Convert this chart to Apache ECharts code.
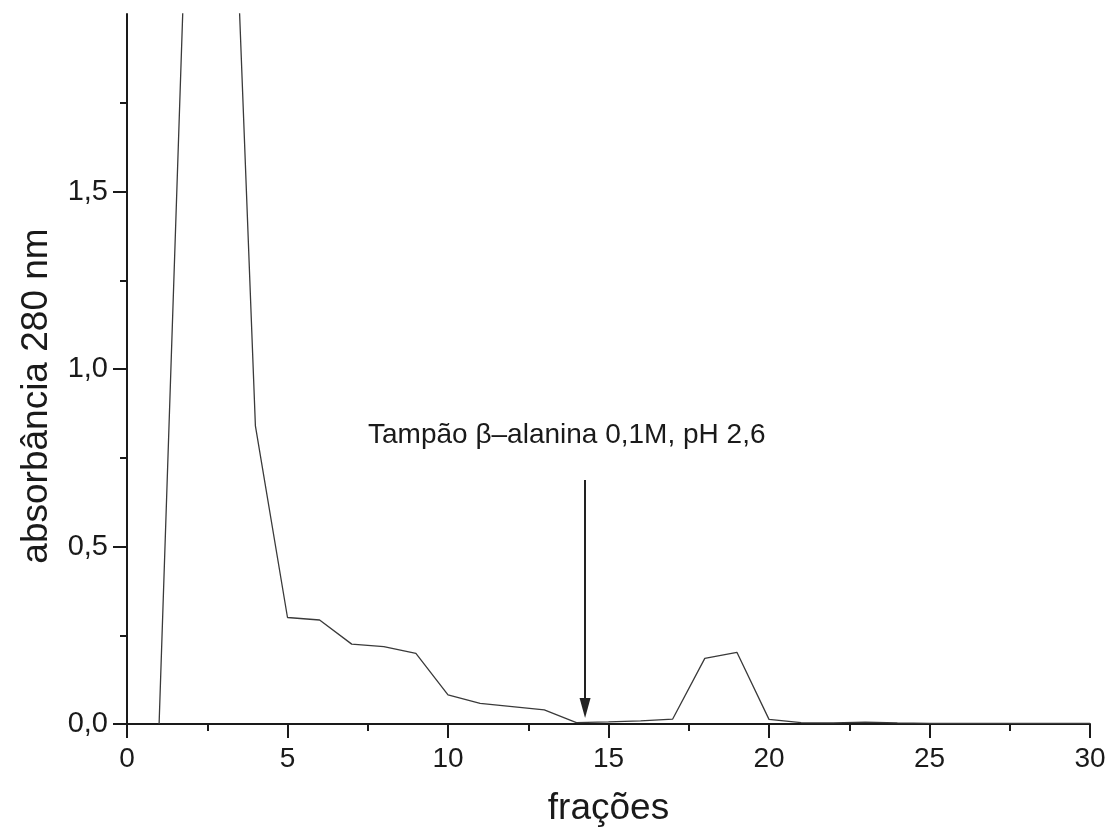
<!DOCTYPE html>
<html>
<head>
<meta charset="utf-8">
<script src="https://cdn.jsdelivr.net/npm/echarts@6/dist/echarts.min.js"></script>
<style>
html,body{margin:0;padding:0;background:#fff;}
#chart{width:1115px;height:837px;}
</style>
</head>
<body>
<div id="chart"></div>
<script>
// Data
const fractions = [1,2,3,4,5,6,7,8,9,10,11,12,13,14,15,16,17,18,19,20,21,22,23,24,25,26,27,28,29,30];
const absorbance = [0,2.72,3.2,0.84,0.30,0.293,0.225,0.218,0.199,0.082,0.058,0.049,0.040,0.004,0.006,0.009,0.014,0.185,0.202,0.013,0.004,0.003,0.005,0.003,0.002,0.002,0.002,0.002,0.002,0.002];
const yTicks = [0, 0.5, 1.0, 1.5];
const arrowX = 14.27;
const arrowFrom = 0.687;
const arrowTo = 0.045;
const annotationText = 'Tampão β–alanina 0,1M, pH 2,6';
const annotationAt = [13.7, 0.812];
const xTitle = 'frações';
const yTitle = 'absorbância 280 nm';

const FONT = '"Liberation Sans", Arial, sans-serif';
const INK = '#1a1a1a';

const chart = echarts.init(document.getElementById('chart'), null, {renderer: 'canvas'});
const fmt = v => v.toFixed(1).replace('.', ',');

chart.setOption({
  backgroundColor: '#fff',
  animation: false,
  grid: {left: 127, right: 25, top: 14, bottom: 113, containLabel: false},
  xAxis: {
    type: 'value', min: 0, max: 30, interval: 5,
    name: xTitle, nameLocation: 'middle', nameGap: 66,
    nameTextStyle: {fontFamily: FONT, fontSize: 37, color: INK},
    axisLine: {show: true, onZero: false, lineStyle: {color: INK, width: 2}},
    axisTick: {show: true, inside: false, length: 14, lineStyle: {color: INK, width: 2}},
    minorTick: {show: true, splitNumber: 2, length: 7, lineStyle: {color: INK, width: 2}},
    axisLabel: {fontFamily: FONT, fontSize: 28, color: INK, margin: 21},
    splitLine: {show: false}
  },
  yAxis: {
    type: 'value', min: 0, max: 2, interval: 0.5,
    name: yTitle, nameLocation: 'middle', nameGap: 72,
    nameTextStyle: {fontFamily: FONT, fontSize: 37, color: INK, padding: [0, 54, 0, 0]},
    axisLine: {show: true, lineStyle: {color: INK, width: 2}},
    axisTick: {show: true, inside: false, length: 14, customValues: yTicks, lineStyle: {color: INK, width: 2}},
    minorTick: {show: true, splitNumber: 2, length: 7, lineStyle: {color: INK, width: 2}},
    axisLabel: {fontFamily: FONT, fontSize: 29, color: INK, margin: 19, customValues: yTicks, formatter: fmt},
    splitLine: {show: false}
  },
  series: [{
    type: 'line',
    data: fractions.map((x, i) => [x, absorbance[i]]),
    showSymbol: false,
    symbol: 'none',
    clip: true,
    lineStyle: {color: '#3a3a3a', width: 1.3},
    markLine: {
      silent: true,
      symbol: ['none', 'triangle'],
      symbolSize: [11, 20],
      label: {show: false},
      lineStyle: {color: '#222', width: 2, type: 'solid'},
      data: [[{coord: [arrowX, arrowFrom]}, {coord: [arrowX, arrowTo]}]]
    },
    markPoint: {
      silent: true,
      symbol: 'circle', symbolSize: 0,
      label: {
        show: true, position: 'inside', formatter: annotationText,
        fontFamily: FONT, fontSize: 28, color: INK
      },
      data: [{coord: annotationAt}]
    }
  }]
});
</script>
</body>
</html>
